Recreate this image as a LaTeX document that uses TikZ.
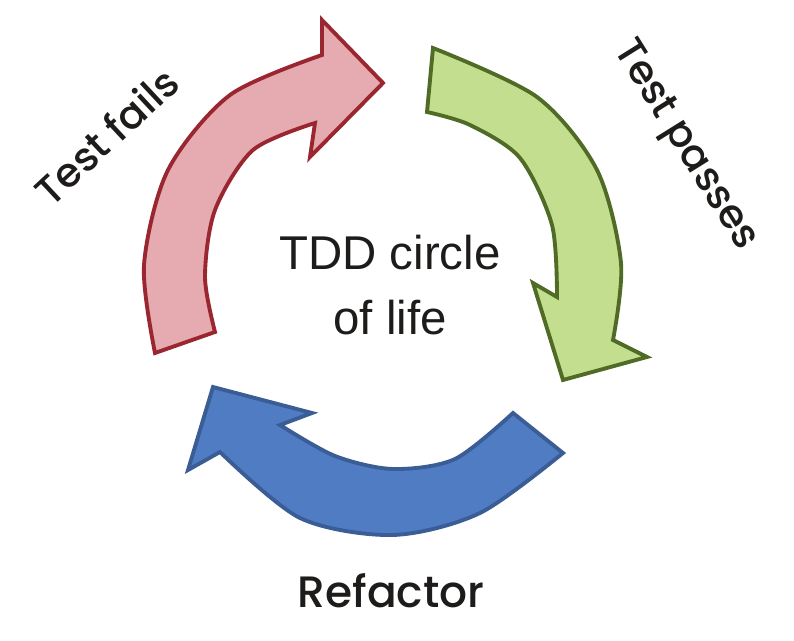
\documentclass[tikz,border=0pt]{standalone}
\usepackage{fontspec}
\setmainfont{Liberation Sans}
\newfontfamily\handfont{Poppins}[UprightFont={* Medium}]
\usepackage{xcolor}
\definecolor{failfill}{HTML}{E6ABB1}
\definecolor{failline}{HTML}{9A2630}
\definecolor{passfill}{HTML}{C3DE8E}
\definecolor{passline}{HTML}{4F6B25}
\definecolor{refill}{HTML}{507CC4}
\definecolor{reline}{HTML}{3B5D96}
\definecolor{ink}{HTML}{1E1C1A}

\begin{document}
\begin{tikzpicture}[
		x=0.02cm, y=-0.02cm,
		cyclearrow/.style={line width=2.2pt, line join=miter},
		handlabel/.style={ink, font=\handfont\fontsize{23}{27}\selectfont, inner sep=0pt}
	]
		\useasboundingbox (0,0) rectangle (794,641);

		% Test fails arrow (red)
		\filldraw[cyclearrow, fill=failfill, draw=failline]
			(155,353) -- plot[smooth] coordinates {(155,353) (144,265) (168,170) (230,95) (322,55)}
			-- (322,20) -- (383,83) -- (310,157) -- (315,123)
			-- plot[smooth] coordinates {(315,123) (253,150) (215,210) (205,277) (215,332)}
			-- cycle;

		% Test passes arrow (green)
		\filldraw[cyclearrow, fill=passfill, draw=passline]
			(427,112) -- (433,48)
			-- plot[smooth] coordinates {(433,48) (537,97) (597,170) (621,263) (613,340)}
			-- (647,357) -- (563,380) -- (533,283) -- (557,297)
			-- plot[smooth] coordinates {(557,297) (552,225) (520,158) (470,125) (427,112)}
			-- cycle;

		% Refactor arrow (blue)
		\filldraw[cyclearrow, fill=refill, draw=reline]
			(513,413) -- (563,453)
			-- plot[smooth] coordinates {(563,453) (480,513) (393,535) (300,518) (220,452)}
			-- (188,470) -- (213,387) -- (312,413) -- (280,425)
			-- plot[smooth] coordinates {(280,425) (335,456) (393,469) (455,459) (513,413)}
			-- cycle;

		% Centre text
		\node[ink, font=\fontsize{27}{37}\selectfont, align=center] (title) at (390,285) {TDD circle\\of life};

		% Labels
		\node[handlabel, rotate=43] (fails) at (106,136) {Test fails};
		\node[handlabel, rotate=-58] (passes) at (684,146) {Test passes};
		\node[handlabel, font=\handfont\fontsize{25}{29}\selectfont] (refactor) at (391,591) {Refactor};
	\end{tikzpicture}
\end{document}
